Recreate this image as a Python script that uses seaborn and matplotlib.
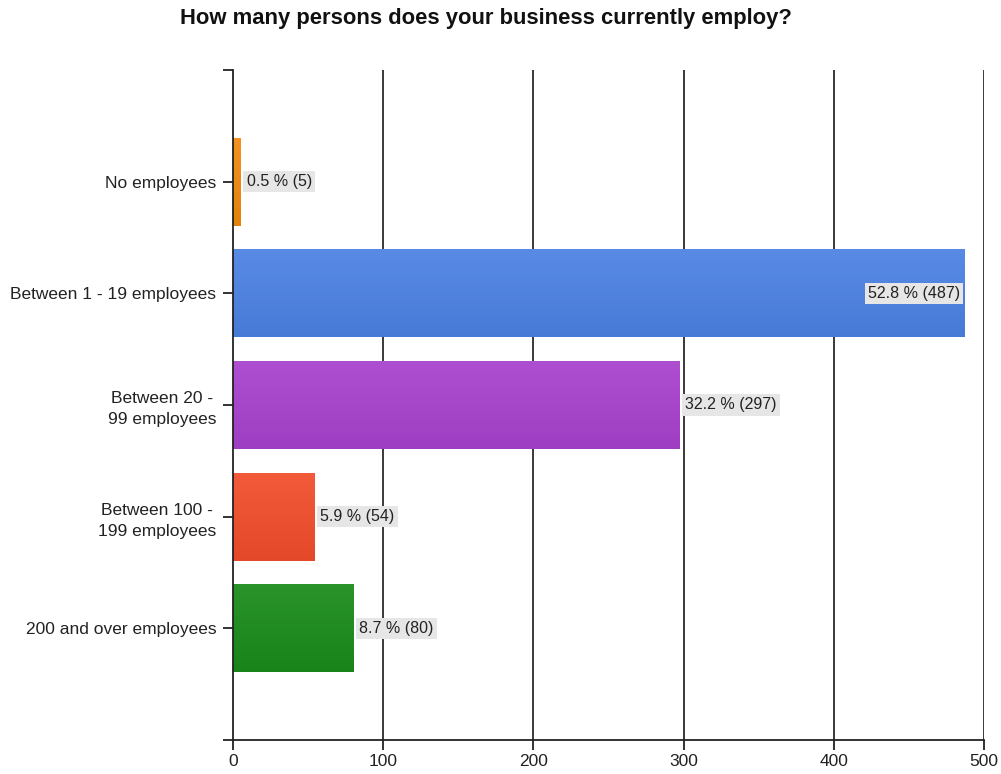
import numpy as np
import pandas as pd
import matplotlib
matplotlib.use("Agg")
import matplotlib.pyplot as plt
import matplotlib.colors as mcolors
import seaborn as sns

categories = ["No employees", "Between 1 - 19 employees", "Between 20 -\n99 employees",
              "Between 100 -\n199 employees", "200 and over employees"]
counts = [5, 487, 297, 54, 80]
percents = [0.5, 52.8, 32.2, 5.9, 8.7]
bar_colors = ["#F28A0E", "#4C82E4", "#A842CE", "#F24E2C", "#1A8C1B"]
x_ticks = [0, 100, 200, 300, 400, 500]

sns.set_theme(style="white")
plt.rcParams["font.family"] = ["Liberation Sans", "DejaVu Sans"]

df = pd.DataFrame({"category": categories, "count": counts})

fig = plt.figure(figsize=(10.01, 7.74), dpi=100)
ax = fig.add_axes([0.2328, 0.0439, 0.7502, 0.8657])

sns.barplot(data=df, x="count", y="category", hue="category", palette=bar_colors,
            orient="h", width=0.79, legend=False, ax=ax, saturation=1)

# gentle vertical shading on each bar
for patch, col in zip(ax.patches, bar_colors):
    x0, y0 = patch.get_x(), patch.get_y()
    w, h = patch.get_width(), patch.get_height()
    rgb = np.array(mcolors.to_rgb(col))
    top = np.clip(rgb * 0.93 + 0.07, 0, 1)
    bot = rgb * 0.94
    t = np.linspace(0, 1, 64)[:, None]
    grad = (top[None, :] * (1 - t) + bot[None, :] * t)[:, None, :]
    im = ax.imshow(grad, extent=[x0, x0 + w, y0 + h, y0], aspect="auto",
                   zorder=patch.get_zorder() + 0.1, interpolation="bilinear")
    im.set_clip_path(patch)
    patch.set_edgecolor("none")

ax.set_xlim(0, 500)
ax.set_ylim(5, -1)
ax.set_xticks(x_ticks)
ax.set_xticklabels([str(v) for v in x_ticks], fontsize=12.5, color="#222222")
ax.set_yticks(range(-1, 6))
ax.set_yticklabels([""] + categories + [""], fontsize=12.5, color="#222222",
                   multialignment="center", linespacing=1.45)
ax.set_xlabel("")
ax.set_ylabel("")

for v in x_ticks[1:]:
    ax.axvline(v, color="#2a2a2a", lw=1.3, zorder=0)

for side in ["top", "right"]:
    ax.spines[side].set_visible(False)
for side in ["left", "bottom"]:
    ax.spines[side].set_color("#222222")
    ax.spines[side].set_linewidth(1.3)
ax.tick_params(axis="both", length=7, width=1.3, color="#222222", direction="out",
               bottom=True, left=True)
ax.tick_params(axis="y", pad=5)
ax.tick_params(axis="x", pad=3)

box = dict(boxstyle="square,pad=0.2", fc="#E6E6E6", ec="none")
for i, (n, p) in enumerate(zip(counts, percents)):
    label = f"{p} % ({n})"
    if n > 450:
        ax.text(n - 3, i, label, ha="right", va="center", fontsize=11.5, color="#222222",
                bbox=box, zorder=5)
    else:
        ax.text(n + 4, i, label, ha="left", va="center", fontsize=11.5, color="#222222",
                bbox=box, zorder=5)

fig.text(0.485, 0.976, "How many persons does your business currently employ?",
         ha="center", va="center", fontsize=15.8, fontweight="bold", color="#111111")

fig.savefig("out.png", dpi=100, facecolor="white")
